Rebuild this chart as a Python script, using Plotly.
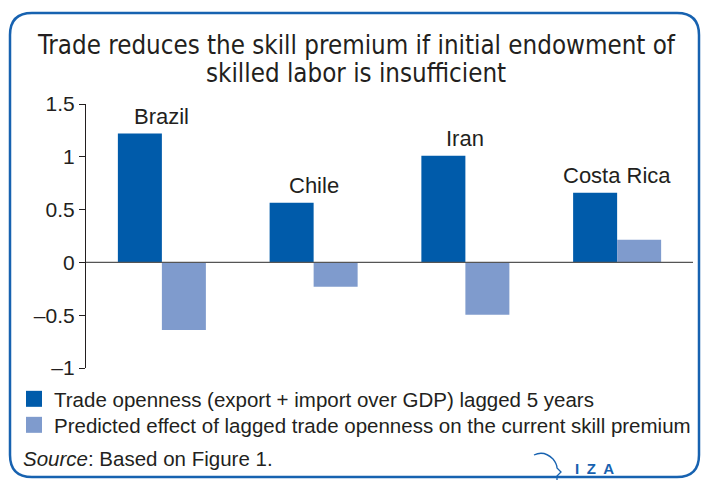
import plotly.graph_objects as go

countries = ["Brazil", "Chile", "Iran", "Costa Rica"]
trade_openness = [1.22, 0.565, 1.01, 0.66]
predicted_effect = [-0.64, -0.23, -0.495, 0.215]
tick_vals = [-1, -0.5, 0, 0.5, 1, 1.5]
tick_text = ["\u20131", "\u20130.5", "0", "0.5", "1", "1.5"]
series_names = ["Trade openness (export + import over GDP) lagged 5 years",
                "Predicted effect of lagged trade openness on the current skill premium"]
title_lines = ["Trade reduces the skill premium if initial endowment of",
               "skilled labor is insufficient"]

DARK = "#005BAA"
LIGHT = "#7F9BCD"
BORDER = "#1762B0"
TEXT = "#231F20"
FONT = "Liberation Sans"
TITLE_FONT = "DejaVu Sans Condensed, Liberation Sans"

W, H = 701, 480
L, R, T, B = 86, 8, 104, 112
PW, PH = W - L - R, H - T - B

def px(x):
    return (x - L) / PW

def py(y):
    return (H - B - y) / PH

fig = go.Figure()
for vals, col, name in [(trade_openness, DARK, series_names[0]), (predicted_effect, LIGHT, series_names[1])]:
    fig.add_trace(go.Bar(x=countries, y=vals, name=name, showlegend=False,
                         marker=dict(color=col, line=dict(width=0))))
for col, name, lg in [(DARK, series_names[0], "legend"), (LIGHT, series_names[1], "legend2")]:
    fig.add_trace(go.Scatter(x=[None], y=[None], mode="markers", name=name, legend=lg,
                             marker=dict(symbol="square", size=16, color=col)))

for c, v in zip(countries, trade_openness):
    fig.add_annotation(x=c, y=v, text=c, showarrow=False, yanchor="bottom", yshift=3,
                       font=dict(size=22, color=TEXT, family=FONT))

# title (two lines, set explicitly for line spacing)
for line, yc in zip(title_lines, [45, 73]):
    fig.add_annotation(xref="paper", yref="paper", x=px(356), y=py(yc), xanchor="center", yanchor="middle",
                       text=line, showarrow=False, font=dict(size=25.7, color=TEXT, family=TITLE_FONT))

# rounded border
x0, x1, y0, y1, r = 10, 699, 13, 477, 22
path = (f"M {px(x0+r)},{py(y0)} L {px(x1-r)},{py(y0)} "
        f"Q {px(x1)},{py(y0)} {px(x1)},{py(y0+r)} L {px(x1)},{py(y1-r)} "
        f"Q {px(x1)},{py(y1)} {px(x1-r)},{py(y1)} L {px(x0+r)},{py(y1)} "
        f"Q {px(x0)},{py(y1)} {px(x0)},{py(y1-r)} L {px(x0)},{py(y0+r)} "
        f"Q {px(x0)},{py(y0)} {px(x0+r)},{py(y0)} Z")
fig.add_shape(type="path", path=path, xref="paper", yref="paper",
              line=dict(color=BORDER, width=2.5), fillcolor="rgba(0,0,0,0)", layer="below")

# zero line
fig.add_shape(type="line", xref="paper", yref="y", x0=0, x1=1, y0=0, y1=0,
              line=dict(color="#555555", width=1.2))

# IZA logo curve
logo = (f"M {px(534)},{py(455)} Q {px(544)},{py(450)} {px(553)},{py(459)} "
        f"Q {px(557)},{py(464)} {px(557)},{py(468)} L {px(561)},{py(472)} "
        f"L {px(557)},{py(476)} L {px(557)},{py(481)}")
fig.add_shape(type="path", path=logo, xref="paper", yref="paper",
              line=dict(color=BORDER, width=1.3))
fig.add_annotation(xref="paper", yref="paper", x=px(573), y=py(468), xanchor="left", yanchor="middle",
                   text="<b>I\u2002Z\u2002A</b>", showarrow=False, font=dict(size=15, color=BORDER, family=FONT))

fig.add_annotation(xref="paper", yref="paper", x=px(21), y=py(458), xanchor="left", yanchor="middle",
                   text="<i>Source</i>: Based on Figure 1.", showarrow=False,
                   font=dict(size=20.5, color=TEXT, family=FONT))

legend_common = dict(xanchor="left", yanchor="top", xref="paper", yref="paper",
                     font=dict(size=20.5, color=TEXT, family=FONT), bgcolor="rgba(0,0,0,0)",
                     itemwidth=30, itemsizing="trace")

fig.update_layout(
    width=W, height=H,
    margin=dict(l=L, r=R, t=T, b=B, autoexpand=False),
    paper_bgcolor="white", plot_bgcolor="white",
    barmode="group", bargap=0.42, bargroupgap=0,
    font=dict(family=FONT, color=TEXT),
    showlegend=True,
    legend=dict(x=px(14), y=py(379), **legend_common),
    legend2=dict(x=px(14), y=py(405), **legend_common),
    xaxis=dict(showticklabels=False, showline=False, showgrid=False, zeroline=False, ticks=""),
    yaxis=dict(range=[-1, 1.5], tickvals=tick_vals, ticktext=tick_text, showgrid=False, zeroline=False,
               showline=True, linecolor=TEXT, linewidth=1.2, ticks="outside", ticklen=6, tickcolor=TEXT,
               tickfont=dict(size=21, color=TEXT, family=FONT)),
)

fig.write_html("out.html", config={"displayModeBar": False},
               post_script="document.body.style.margin='0px';")
